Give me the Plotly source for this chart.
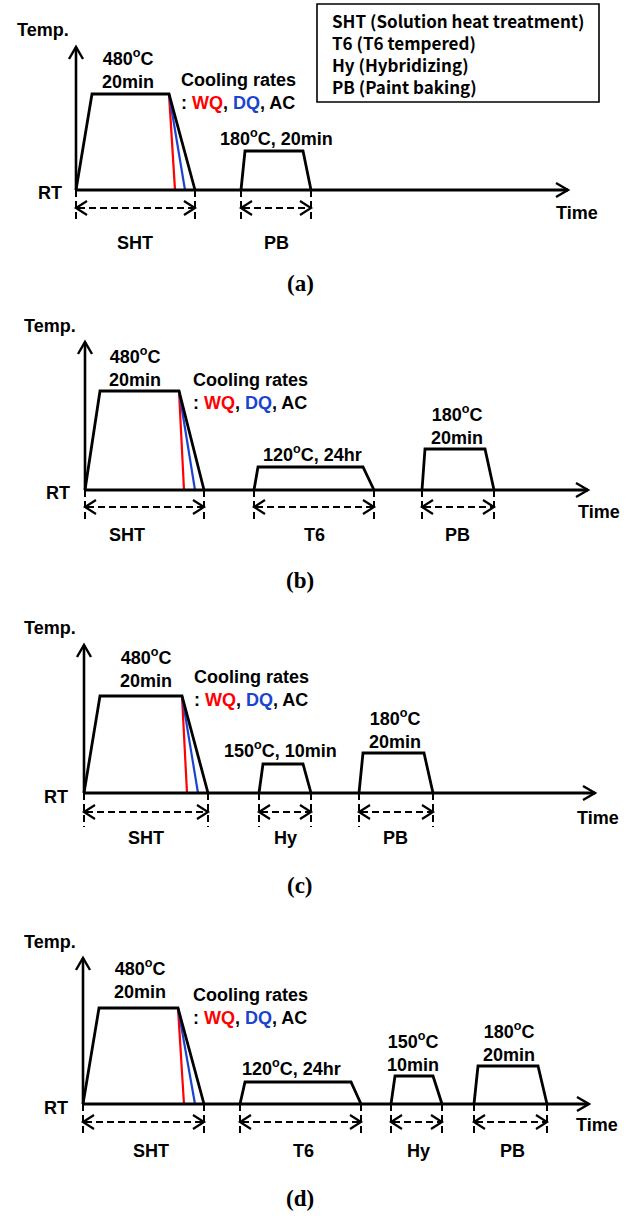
import plotly.graph_objects as go

W, H = 635, 1220

# ---------------- data (schematic time / temperature units) ----------------
panel_labels = ["(a)", "(b)", "(c)", "(d)"]

# SHT step: heat-up start, plateau start, plateau end, AC end
sht_t = [[0, 16, 93, 119], [0, 15, 94, 119], [0, 16, 98, 124], [0, 16, 95, 121]]
sht_T = [96, 99, 97, 96]
wq_end = [99, 99, 103, 101]
dq_end = [109, 110, 114, 112]

# following steps of each panel
step_names = [["PB"], ["T6", "PB"], ["Hy", "PB"], ["T6", "Hy", "PB"]]
step_t = [
    [[165, 169, 227, 235]],
    [[169, 173, 278, 289], [337, 340, 400, 409]],
    [[175, 179, 219, 227], [275, 279, 340, 349]],
    [[157, 162, 268, 278], [308, 312, 350, 359], [391, 395, 455, 464]],
]
step_T = [[39], [23, 41], [29, 40], [22, 28, 38]]
step_cond = [
    ["180<sup>o</sup>C, 20min"],
    ["120<sup>o</sup>C, 24hr", "180<sup>o</sup>C<br>20min"],
    ["150<sup>o</sup>C, 10min", "180<sup>o</sup>C<br>20min"],
    ["120<sup>o</sup>C, 24hr", "150<sup>o</sup>C<br>10min", "180<sup>o</sup>C<br>20min"],
]
sht_cond = "480<sup>o</sup>C<br>20min"
legend_lines = ["SHT (Solution heat treatment)", "T6 (T6 tempered)",
                "Hy (Hybridizing)", "PB (Paint baking)"]

# ---------------- layout geometry (pixels) ----------------
origin_x = [76, 85, 84, 83]
baseline_y = [190, 490, 793, 1104]
band = [(0, 300), (300, 610), (610, 915), (915, 1220)]
axis_top = [143, 148, 148, 146]
axis_end = [492, 503, 511, 506]
tick_depth = [30, 31, 34, 29]
arrow_T = [-18, -17, -19, -18]
temp_lbl = [(-33, 160), (-35, 164), (-34, 165), (-33, 162)]
rt_lbl = [(-26, -3), (-27, -3), (-28, -4), (-27, -4)]
time_lbl = [(501, -23), (514, -22), (514, -25), (514, -21)]
sht_cond_pos = [(52, 121.5), (50, 123), (62, 125.5), (57, 125)]
cool_pos = [(103, 98.5), (106, 98.5), (108, 105), (108, 97.5)]
step_cond_pos = [
    [(200, 53)],
    [(227, 37), (372, 65)],
    [(196, 44), (311, 64.5)],
    [(208, 37), (330, 52), (426, 62)],
]
name_T = [-53, -45, -45, -47]
sht_name_x = [59, 42, 62, 68]
step_name_x = [[200], [229, 372], [201, 311], [220, 335, 429]]
plabel_pos = [(224, -93), (215, -90), (216, -92), (217, -94)]
legend_box = (241, 523, 88, 186)
legend_text_pos = (254, 136.5)

RED = "#ff0000"
BLUE = "#1a44d0"
SANS = "Liberation Sans"
FS = 18

fig = go.Figure()


def line(xs, ys, k, color="black", width=2.8, dash=None):
    fig.add_trace(go.Scatter(
        x=xs, y=ys, mode="lines", xaxis=f"x{k}", yaxis=f"y{k}",
        line=dict(color=color, width=width, dash=dash, simplify=False),
        hoverinfo="skip", showlegend=False))


def text(x, y, s, k, size=FS, family=SANS, anchor="center", align="center", color="black"):
    fig.add_annotation(x=x, y=y, xref=f"x{k}", yref=f"y{k}", text=s, showarrow=False,
                       xanchor=anchor, yanchor="middle", align=align,
                       font=dict(family=family, size=size, color=color, weight="bold"))


for i in range(4):
    k = i + 1
    top = axis_top[i]
    end = axis_end[i]
    # temperature axis + chevron
    line([0, 0], [0, top], k, width=2.6)
    line([-7, 0, 7], [top - 12, top, top - 12], k, width=2.4)
    # cooling variants
    t0, t1, t2, t3 = sht_t[i]
    Tm = sht_T[i]
    line([t2, wq_end[i]], [Tm, 0], k, color=RED, width=2.2)
    line([t2, dq_end[i]], [Tm, 0], k, color=BLUE, width=2.2)
    # SHT trapezoid (AC)
    line(sht_t[i], [0, Tm, Tm, 0], k)
    # other steps
    for st, sT in zip(step_t[i], step_T[i]):
        line(st, [0, sT, sT, 0], k)
    # time axis + chevron
    line([0, end], [0, 0], k, width=3)
    line([end - 12, end, end - 12], [7, 0, -7], k, width=2.4)

    # dashed spans
    spans = [(t0, t3)] + [(st[0], st[3]) for st in step_t[i]]
    names = ["SHT"] + step_names[i]
    name_xs = [sht_name_x[i]] + step_name_x[i]
    d = tick_depth[i]
    ay = arrow_T[i]
    for (a, b), nm, nx in zip(spans, names, name_xs):
        for xv in (a, b):
            line([xv, xv], [0, -d], k, width=2, dash="7px,4px")
        line([a + 2, b - 2], [ay, ay], k, width=2, dash="7px,4px")
        line([a + 11, a, a + 11], [ay + 7, ay, ay - 7], k, width=2.2)
        line([b - 11, b, b - 11], [ay + 7, ay, ay - 7], k, width=2.2)
        text(nx, name_T[i], nm, k)

    # texts
    text(*temp_lbl[i], "Temp.", k)
    text(*rt_lbl[i], "RT", k)
    text(*time_lbl[i], "Time", k)
    text(*sht_cond_pos[i], sht_cond, k)
    text(*cool_pos[i],
         "Cooling rates<br>: <span style='color:%s'>WQ</span>, "
         "<span style='color:%s'>DQ</span>, AC" % (RED, BLUE),
         k, anchor="left", align="left")
    for s, (px, py) in zip(step_cond[i], step_cond_pos[i]):
        text(px, py, s, k)
    text(*plabel_pos[i], panel_labels[i], k, size=23, family="Liberation Serif")

# legend box (panel a)
x0, x1, y0, y1 = legend_box
fig.add_shape(type="rect", xref="x1", yref="y1", x0=x0, x1=x1, y0=y0, y1=y1,
              line=dict(color="black", width=1.6), fillcolor="rgba(0,0,0,0)")
text(legend_text_pos[0], legend_text_pos[1], "<br>".join(legend_lines), 1,
     size=17, family="Noto Sans CJK KR", anchor="left", align="left")

layout = dict(width=W, height=H, margin=dict(l=0, r=0, t=0, b=0, pad=0),
              paper_bgcolor="white", plot_bgcolor="white", autosize=False,
              hovermode=False, showlegend=False)
for i in range(4):
    k = i + 1
    top_px, bot_px = band[i]
    xa = "xaxis" if k == 1 else f"xaxis{k}"
    ya = "yaxis" if k == 1 else f"yaxis{k}"
    layout[xa] = dict(range=[-origin_x[i], W - origin_x[i]], domain=[0, 1],
                      anchor=f"y{k}", visible=False, fixedrange=True)
    layout[ya] = dict(range=[baseline_y[i] - bot_px, baseline_y[i] - top_px],
                      domain=[1 - bot_px / H, 1 - top_px / H],
                      anchor=f"x{k}", visible=False, fixedrange=True)
fig.update_layout(**layout)
fig.write_html("out.html", config={"displayModeBar": False})
